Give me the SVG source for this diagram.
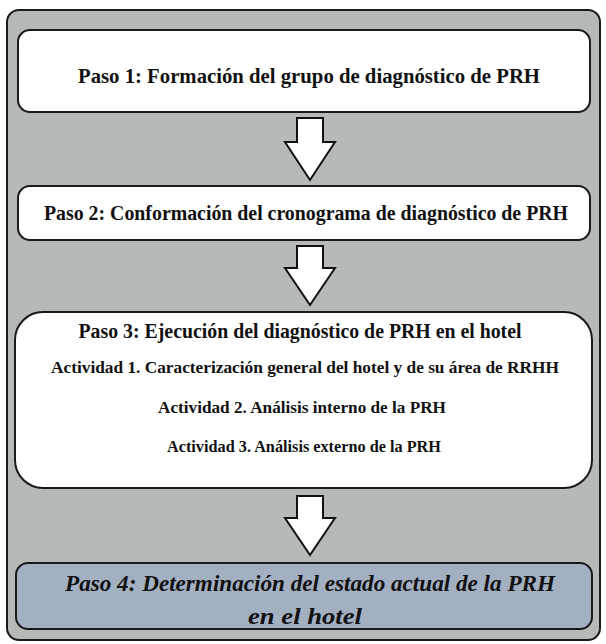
<svg xmlns="http://www.w3.org/2000/svg" width="606" height="644" viewBox="0 0 606 644">
<style>
.box{fill:#ffffff;stroke:#1a1a1a;stroke-width:2}
.t{font-family:"Liberation Serif","Times New Roman",serif;font-weight:bold;fill:#111;text-anchor:middle}
.it{font-style:italic}
.arr{fill:#ffffff;stroke:#111;stroke-width:2;stroke-linejoin:miter}
</style>
<rect x="7" y="10" width="593" height="630" rx="12" fill="#b6b9ba" stroke="#1a1a1a" stroke-width="2"/>
<g id="paso1">
<rect class="box" x="18" y="30" width="572" height="82" rx="12"/>
<text class="t" x="309" y="83" font-size="22" textLength="462" lengthAdjust="spacingAndGlyphs">Paso 1: Formación del grupo de diagnóstico de PRH</text>
</g>
<g id="paso2">
<rect class="box" x="18" y="186" width="572" height="54" rx="12"/>
<text class="t" x="306" y="220" font-size="21" textLength="524" lengthAdjust="spacingAndGlyphs">Paso 2: Conformación del cronograma de diagnóstico de PRH</text>
</g>
<g id="paso3">
<rect class="box" x="15" y="312" width="577" height="176" rx="28"/>
<text class="t" x="300" y="338" font-size="21" textLength="443" lengthAdjust="spacingAndGlyphs">Paso 3: Ejecución del diagnóstico de PRH en el hotel</text>
<text class="t" x="305" y="373" font-size="17" textLength="508" lengthAdjust="spacingAndGlyphs">Actividad 1. Caracterización general del hotel y de su área de RRHH</text>
<text class="t" x="302" y="413" font-size="17" textLength="288" lengthAdjust="spacingAndGlyphs">Actividad 2. Análisis interno de la PRH</text>
<text class="t" x="304" y="452" font-size="17" textLength="274" lengthAdjust="spacingAndGlyphs">Actividad 3. Análisis externo de la PRH</text>
</g>
<g id="paso4">
<rect x="16" y="563" width="576" height="66" rx="12" fill="#a2b0c1" stroke="#1a1a1a" stroke-width="2"/>
<text class="t it" x="310" y="591" font-size="24" textLength="490" lengthAdjust="spacingAndGlyphs">Paso 4: Determinación del estado actual de la PRH</text>
<text class="t it" x="305" y="624" font-size="24" textLength="114" lengthAdjust="spacingAndGlyphs">en el hotel</text>
</g>
<g id="connectors">
<path class="arr" d="M297,118 H323 V142 H335 L310,180 L285,142 H297 Z"/>
<path class="arr" d="M297,246 H323 V268 H335 L310,305 L285,268 H297 Z"/>
<path class="arr" d="M297,496 H323 V518 H335 L310,555 L285,518 H297 Z"/>
</g>
</svg>
